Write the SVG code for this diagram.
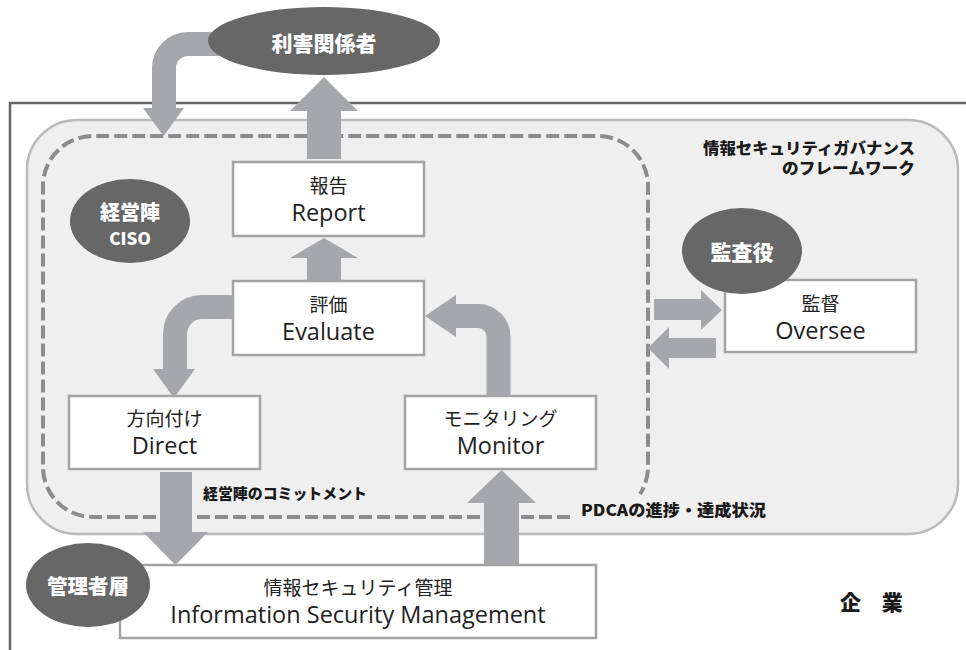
<svg xmlns="http://www.w3.org/2000/svg" width="966" height="650" viewBox="0 0 966 650">
<style>
.box{fill:#fff;stroke:#a3a3a3;stroke-width:2.5}
.ell{fill:#676767}
.arw{fill:#a6a7aa}
.band{fill:none;stroke:#a6a7aa}
.jp{font-family:"Noto Sans CJK JP","Open Sans",sans-serif;font-size:19px;fill:#222;text-anchor:middle;dominant-baseline:central}
.en{font-family:"Open Sans","Noto Sans",sans-serif;font-size:23.5px;fill:#222;text-anchor:middle;dominant-baseline:central}
.wl{font-family:"Noto Sans CJK JP",sans-serif;font-weight:900;fill:#fff;text-anchor:middle;dominant-baseline:central}
.bl{font-family:"Noto Sans CJK JP",sans-serif;font-weight:900;fill:#1a1a1a;dominant-baseline:central}
</style>
<rect width="966" height="650" fill="#fff"/>
<g id="enterprise">
<path d="M10 650 V103 H966" fill="none" stroke="#666" stroke-width="2.5"/>
<text class="bl" x="840" y="601" font-size="21" word-spacing="16">企 業</text>
</g>
<g id="framework">
<rect x="27" y="120" width="931" height="414" rx="50" fill="#efefef" stroke="#bababa" stroke-width="2.5"/>
<text class="bl" x="915" y="146.5" font-size="15.5" text-anchor="end" textLength="212" lengthAdjust="spacingAndGlyphs">情報セキュリティガバナンス</text>
<text class="bl" x="915" y="166.5" font-size="15.5" text-anchor="end" textLength="133" lengthAdjust="spacingAndGlyphs">のフレームワーク</text>
</g>
<g id="governance-loop">
<path d="M570 517 H93 A50 50 0 0 1 43 467 V186 A50 50 0 0 1 93 136 H598 A50 50 0 0 1 648 186 V467 A50 50 0 0 1 640 494" fill="none" stroke="#8c8c8e" stroke-width="4" stroke-dasharray="13 5"/>
<text class="bl" x="203" y="492" font-size="15" textLength="164" lengthAdjust="spacingAndGlyphs">経営陣のコミットメント</text>
<text class="bl" x="581" y="509" font-size="16" textLength="185" lengthAdjust="spacingAndGlyphs">PDCAの進捗・達成状況</text>
</g>
<g id="report">
<rect class="box" x="233" y="162" width="191" height="74"/>
<text class="jp" x="328.5" y="184">報告</text>
<text class="en" x="328.5" y="212">Report</text>
</g>
<g id="evaluate">
<rect class="box" x="233" y="281" width="191" height="74"/>
<text class="jp" x="328.5" y="303">評価</text>
<text class="en" x="328.5" y="331">Evaluate</text>
</g>
<g id="direct">
<rect class="box" x="69" y="396" width="191" height="73"/>
<text class="jp" x="164.5" y="417">方向付け</text>
<text class="en" x="164.5" y="445">Direct</text>
</g>
<g id="monitor">
<rect class="box" x="405" y="396" width="191" height="73"/>
<text class="jp" x="500.5" y="417">モニタリング</text>
<text class="en" x="500.5" y="445">Monitor</text>
</g>
<g id="oversee">
<rect class="box" x="725" y="280" width="191" height="72"/>
<text class="jp" x="820.5" y="302">監督</text>
<text class="en" x="820.5" y="330">Oversee</text>
</g>
<g id="management">
<rect class="box" x="120" y="565" width="476" height="73"/>
<text class="jp" x="358" y="586">情報セキュリティ管理</text>
<text class="en" x="358" y="614">Information Security Management</text>
</g>
<g id="connectors">
<path class="band" d="M220 44 H188 A24 24 0 0 0 164 68 V110" stroke-width="24"/>
<polygon class="arw" points="143,108 184,108 163.5,136"/>
<rect class="arw" x="307" y="108" width="34" height="51"/>
<polygon class="arw" points="290,111 358,111 324,77"/>
<rect class="arw" x="307" y="256" width="34" height="25"/>
<polygon class="arw" points="290,258 358,258 324,238"/>
<path class="band" d="M234 307 H202 A27 27 0 0 0 175 334 V371" stroke-width="24"/>
<polygon class="arw" points="153,369 195,369 174,398"/>
<path class="band" d="M454 316 H478 A20.5 20.5 0 0 1 498.5 336.5 V396" stroke-width="24"/>
<polygon class="arw" points="456,295 456,337 425,316"/>
<rect class="arw" x="160" y="472" width="32" height="62"/>
<polygon class="arw" points="143,532 208,532 175.5,565"/>
<rect class="arw" x="484" y="501" width="35" height="63"/>
<polygon class="arw" points="467,503 536,503 501.5,470"/>
<rect class="arw" x="654" y="299" width="49" height="21"/>
<polygon class="arw" points="701,290 701,330 722,310"/>
<rect class="arw" x="667" y="338" width="49" height="20"/>
<polygon class="arw" points="669,327 669,369 648,348"/>
</g>
<g id="stakeholders">
<ellipse class="ell" cx="324" cy="41" rx="116" ry="34"/>
<text class="wl" x="324" y="42" font-size="21">利害関係者</text>
</g>
<g id="executives">
<ellipse class="ell" cx="130" cy="221" rx="60" ry="42"/>
<text class="wl" x="130" y="211" font-size="20">経営陣</text>
<text class="wl" x="130" y="237" font-size="17" font-family="Open Sans, sans-serif" font-weight="700">CISO</text>
</g>
<g id="auditor">
<ellipse class="ell" cx="742" cy="251" rx="60" ry="43"/>
<text class="wl" x="742" y="251" font-size="21">監査役</text>
</g>
<g id="managers">
<ellipse class="ell" cx="88" cy="585" rx="62" ry="42"/>
<text class="wl" x="88" y="585" font-size="20.5">管理者層</text>
</g>
</svg>
